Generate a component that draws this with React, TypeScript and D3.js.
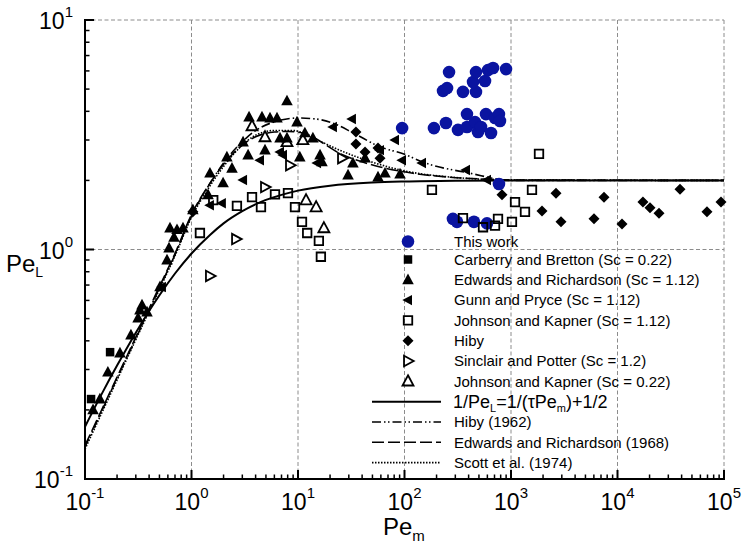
import React from 'react';
import * as d3 from 'd3';

type Pt = [number, number];

// data, [Pe_m, Pe_L]
const thisWork: Pt[] = [
  [262, 5.93], [230, 4.91], [251, 5.05], [354, 4.86], [469, 4.86], [440, 5.37], [469, 5.93],
  [570, 5.42], [608, 6.05], [678, 6.18], [898, 6.11], [95, 3.38], [189, 3.38], [245, 3.56],
  [318, 3.32], [386, 3.89], [386, 3.42], [459, 3.59], [490, 3.25], [523, 3.42], [582, 3.89],
  [649, 3.22], [708, 3.74], [771, 3.89], [788, 3.63], [771, 1.93], [285, 1.36], [311, 1.32],
  [449, 1.32], [595, 1.3],
];
const carberry: Pt[] = [[0.114, 0.223], [0.172, 0.357]];
const edwards: Pt[] = [
  [0.119, 0.2], [0.138, 0.223], [0.164, 0.292], [0.213, 0.354], [0.27, 0.424], [0.315, 0.503],
  [0.328, 0.545], [0.343, 0.573], [0.382, 0.534], [0.506, 0.687], [0.589, 0.9], [0.615, 1.015],
  [0.628, 1.24], [0.731, 1.22], [0.832, 1.24], [0.685, 1.13], [1.03, 1.49], [1.43, 1.73],
  [1.49, 2.15], [1.98, 1.95], [2.4, 2.26], [2.15, 2.53], [3.05, 2.94], [3.4, 2.58], [4.9, 2.71],
  [3.47, 3.78], [4.59, 3.78], [5.46, 3.74], [6.35, 3.74], [7.88, 4.44], [9.79, 3.59], [6.78, 3.06],
  [7.88, 3.06], [10.4, 2.53], [11.6, 3.22], [16.1, 2.58], [16.8, 2.41], [13.8, 3.06], [29.5, 2.11],
  [42.6, 2.5], [56.4, 2.07], [65.6, 2.15], [90.8, 2.13], [32.8, 2.38],
];
const gunn: Pt[] = [
  [0.528, 0.687], [1.49, 1.56], [1.93, 1.59], [3.05, 2.01], [4.4, 2.45], [6.78, 2.66], [7.23, 2.58],
  [15.1, 2.38], [21.3, 3.42], [32.1, 3.7], [58.9, 2.71], [81.5, 3.0], [94.8, 2.45], [146, 2.38],
  [378, 2.22], [595, 2.01],
];
const johnson112: Pt[] = [
  [1.2, 1.18], [1.6, 1.64], [2.67, 1.55], [3.7, 1.69], [4.49, 1.53], [6.08, 1.74], [8.05, 1.76],
  [9.37, 1.53], [10.9, 1.32], [12.2, 1.18], [15.7, 1.09], [16.4, 0.93], [181, 1.82], [1832, 2.61],
  [1574, 1.82], [1091, 1.61], [1353, 1.46], [354, 1.37], [546, 1.25], [708, 1.27], [755, 1.36],
  [1021, 1.32],
];
const hiby: Pt[] = [
  [1.03, 1.46], [35, 3.25], [35, 2.88], [42.6, 2.66], [56.4, 2.77], [58.9, 2.5], [823, 1.73],
  [2646, 1.76], [1955, 1.47], [2946, 1.32], [6013, 1.36], [7465, 1.69], [11020, 1.29], [17340, 1.61],
  [20180, 1.52], [24530, 1.44], [38640, 1.83], [69200, 1.46], [93700, 1.61],
];
const sinclair: Pt[] = [[1.49, 0.767], [2.62, 1.11], [4.9, 1.87], [8.41, 2.33], [25.9, 2.5]];
const johnson022: Pt[] = [
  [3.7, 3.45], [4.9, 3.09], [7.88, 2.94], [11.1, 3.0], [11.9, 1.64], [14.8, 1.53], [17.5, 1.24],
];

// correlation curves
const modelCurve: Pt[] = [
  [0.1, 0.169], [0.15, 0.244], [0.2, 0.312], [0.3, 0.434], [0.5, 0.632], [0.7, 0.786], [1, 0.961],
  [1.5, 1.16], [2, 1.3], [3, 1.47], [5, 1.645], [7, 1.73], [10, 1.805], [20, 1.897], [50, 1.957],
  [100, 1.978], [300, 1.993], [1000, 1.998], [10000, 2.0], [100000, 2.0],
];
const hiby1962: Pt[] = [
  [0.1, 0.138], [0.2, 0.275], [0.3, 0.41], [0.5, 0.68], [0.7, 0.95], [1, 1.4], [1.5, 1.95],
  [2, 2.38], [3, 2.95], [4, 3.3], [6, 3.6], [10, 3.74], [15, 3.7], [21, 3.56], [33, 3.22],
  [59, 2.8], [100, 2.6], [150, 2.4], [412, 2.15], [1000, 2.0], [100000, 2.0],
];
const edwards1968: Pt[] = [
  [0.1, 0.14], [0.2, 0.278], [0.3, 0.415], [0.5, 0.69], [0.7, 0.96], [1, 1.42], [1.5, 1.95],
  [2, 2.35], [3, 2.85], [4, 3.1], [6, 3.25], [8, 3.27], [11, 3.22], [26.5, 2.58], [59, 2.29],
  [120, 2.15], [251, 2.07], [512, 2.03], [1000, 2.01], [100000, 2.0],
];
const scott1974: Pt[] = [
  [0.1, 0.135], [0.2, 0.27], [0.3, 0.405], [0.5, 0.67], [0.7, 0.94], [1, 1.38], [1.5, 1.9],
  [2, 2.3], [3, 2.85], [4, 3.15], [6, 3.3], [9, 3.3], [14, 3.05], [25, 2.7], [50, 2.4],
  [100, 2.2], [300, 2.06], [1000, 2.01], [100000, 2.0],
];

const xTickExps = [-1, 0, 1, 2, 3, 4, 5];
const yTickExps = [-1, 0, 1];

const FONT = "'Liberation Sans', Arial, Helvetica, sans-serif";
const BLUE = '#0a14a0';

const width = 745;
const height = 545;
const x = d3.scaleLog().domain([1e-1, 1e5]).range([85, 724]);
const y = d3.scaleLog().domain([1e-1, 1e1]).range([479, 20]);

const triUp = (s: number) => `M0,${-s * 0.6}L${s * 0.55},${s * 0.42}L${-s * 0.55},${s * 0.42}Z`;
const triLeft = (s: number) => `M${-s * 0.6},0L${s * 0.42},${-s * 0.55}L${s * 0.42},${s * 0.55}Z`;
const triRight = (s: number) => `M${s * 0.6},0L${-s * 0.42},${-s * 0.55}L${-s * 0.42},${s * 0.55}Z`;
const square = (s: number) => `M${-s / 2},${-s / 2}h${s}v${s}h${-s}Z`;
const diamond = (s: number) => `M0,${-s / 2}L${s / 2},0L0,${s / 2}L${-s / 2},0Z`;
const circle = (s: number) => d3.arc()({ innerRadius: 0, outerRadius: s / 2, startAngle: 0, endAngle: 2 * Math.PI }) as string;

type Series = { label: string; data: Pt[]; d: string; fill: string; stroke: string; sw: number };

const series: Series[] = [
  { label: 'This work', data: thisWork, d: circle(12.6), fill: BLUE, stroke: 'none', sw: 0 },
  { label: 'Carberry and Bretton (Sc = 0.22)', data: carberry, d: square(8.5), fill: '#000', stroke: 'none', sw: 0 },
  { label: 'Edwards and Richardson (Sc = 1.12)', data: edwards, d: triUp(10.5), fill: '#000', stroke: 'none', sw: 0 },
  { label: 'Gunn and Pryce (Sc = 1.12)', data: gunn, d: triLeft(9.5), fill: '#000', stroke: 'none', sw: 0 },
  { label: 'Johnson and Kapner (Sc = 1.12)', data: johnson112, d: square(8.5), fill: 'none', stroke: '#000', sw: 1.8 },
  { label: 'Hiby', data: hiby, d: diamond(11), fill: '#000', stroke: 'none', sw: 0 },
  { label: 'Sinclair and Potter (Sc = 1.2)', data: sinclair, d: triRight(9.5), fill: 'none', stroke: '#000', sw: 1.8 },
  { label: 'Johnson and Kapner (Sc = 0.22)', data: johnson022, d: triUp(10), fill: 'none', stroke: '#000', sw: 1.8 },
];

type Curve = { data: Pt[]; dash: string; sw: number };
const curves: Curve[] = [
  { data: modelCurve, dash: '', sw: 2 },
  { data: hiby1962, dash: '9,3,1.5,2.5,1.5,3', sw: 1.6 },
  { data: edwards1968, dash: '12,4', sw: 1.6 },
  { data: scott1974, dash: '1.5,1.5', sw: 1.6 },
];

const line = d3
  .line<Pt>()
  .x((d) => x(d[0]))
  .y((d) => y(d[1]))
  .curve(d3.curveMonotoneX);

const minorTicks = (lo: number, hi: number) => {
  const out: number[] = [];
  for (let e = lo; e < hi; e++) for (let k = 2; k <= 9; k++) out.push(k * Math.pow(10, e));
  return out;
};

const markerRows = [241.5, 259.5, 279.8, 300.1, 320.4, 340.7, 361, 381.3];
const lineRows = [401.7, 422, 442.3, 462.6];

const App = () => {
  const [x0, x1] = x.range();
  const [y0, y1] = y.range();
  return (
    <svg width={width} height={height} style={{ position: 'absolute', left: 0, top: 0, background: '#fff' }}>
      {/* grid */}
      <g stroke="#8c8c8c" strokeWidth={1} strokeDasharray="4,2.5" fill="none">
        {xTickExps.slice(1).map((e) => (
          <line key={'gx' + e} x1={x(10 ** e)} x2={x(10 ** e)} y1={y0} y2={y1} />
        ))}
        {yTickExps.slice(1).map((e) => (
          <line key={'gy' + e} x1={x0} x2={x1} y1={y(10 ** e)} y2={y(10 ** e)} />
        ))}
      </g>

      {/* correlation curves */}
      {curves.map((c, i) => (
        <path key={'c' + i} d={line(c.data) as string} fill="none" stroke="#000" strokeWidth={c.sw} strokeDasharray={c.dash || undefined} />
      ))}

      {/* markers */}
      {series.map((s, i) => (
        <g key={'s' + i}>
          {s.data.map((p, j) => (
            <path key={j} d={s.d} transform={`translate(${x(p[0])},${y(p[1])})`} fill={s.fill} stroke={s.stroke} strokeWidth={s.sw} strokeLinejoin="miter" />
          ))}
        </g>
      ))}

      {/* axes */}
      <g stroke="#000" strokeWidth={2}>
        <line x1={x0 - 1} x2={x1 + 1} y1={y0} y2={y0} />
        <line x1={x0} x2={x0} y1={y0 + 1} y2={y1 - 1} />
        {xTickExps.map((e) => (
          <line key={'xt' + e} x1={x(10 ** e)} x2={x(10 ** e)} y1={y0} y2={y0 - 9} />
        ))}
        {minorTicks(-1, 5).map((v, i) => (
          <line key={'xm' + i} x1={x(v)} x2={x(v)} y1={y0} y2={y0 - 4.5} strokeWidth={1.5} />
        ))}
        {yTickExps.map((e) => (
          <line key={'yt' + e} x1={x0} x2={x0 + 9} y1={y(10 ** e)} y2={y(10 ** e)} />
        ))}
        {minorTicks(-1, 1).map((v, i) => (
          <line key={'ym' + i} x1={x0} x2={x0 + 4.5} y1={y(v)} y2={y(v)} strokeWidth={1.5} />
        ))}
      </g>

      {/* tick labels */}
      <g fontFamily={FONT} fill="#000">
        {xTickExps.map((e) => (
          <text key={'xl' + e} x={x(10 ** e)} y={510} textAnchor="middle" fontSize={23}>
            10<tspan fontSize={15} dy={-12}>{e}</tspan>
          </text>
        ))}
        {yTickExps.map((e) => (
          <text key={'yl' + e} x={73} y={y(10 ** e) + 9} textAnchor="end" fontSize={23}>
            10<tspan fontSize={15} dy={-12}>{e}</tspan>
          </text>
        ))}
        <text x={383} y={535} fontSize={24}>
          Pe<tspan fontSize={15} dy={6}>m</tspan>
        </text>
        <text x={6} y={272} fontSize={24}>
          Pe<tspan fontSize={14} dy={5}>L</tspan>
        </text>
      </g>

      {/* legend */}
      <g fontFamily={FONT} fontSize={15} fill="#000">
        {series.map((s, i) => (
          <g key={'lg' + i}>
            <path d={s.d} transform={`translate(408,${markerRows[i]})`} fill={s.fill} stroke={s.stroke} strokeWidth={s.sw} />
            <text x={454} y={markerRows[i] + 5.3}>{s.label}</text>
          </g>
        ))}
        {curves.map((c, i) => (
          <line key={'ll' + i} x1={372} x2={441} y1={lineRows[i]} y2={lineRows[i]} stroke="#000" strokeWidth={c.sw} strokeDasharray={c.dash || undefined} />
        ))}
        <text x={453} y={lineRows[0] + 6} fontSize={18}>
          1/Pe<tspan fontSize={11} dy={4}>L</tspan>
          <tspan dy={-4}>=1/(τPe</tspan>
          <tspan fontSize={11} dy={4}>m</tspan>
          <tspan dy={-4}>)+1/2</tspan>
        </text>
        <text x={454} y={lineRows[1] + 5.3}>Hiby (1962)</text>
        <text x={454} y={lineRows[2] + 5.3}>Edwards and Richardson (1968)</text>
        <text x={454} y={lineRows[3] + 5.3}>Scott et al. (1974)</text>
      </g>
    </svg>
  );
};

export default App;
